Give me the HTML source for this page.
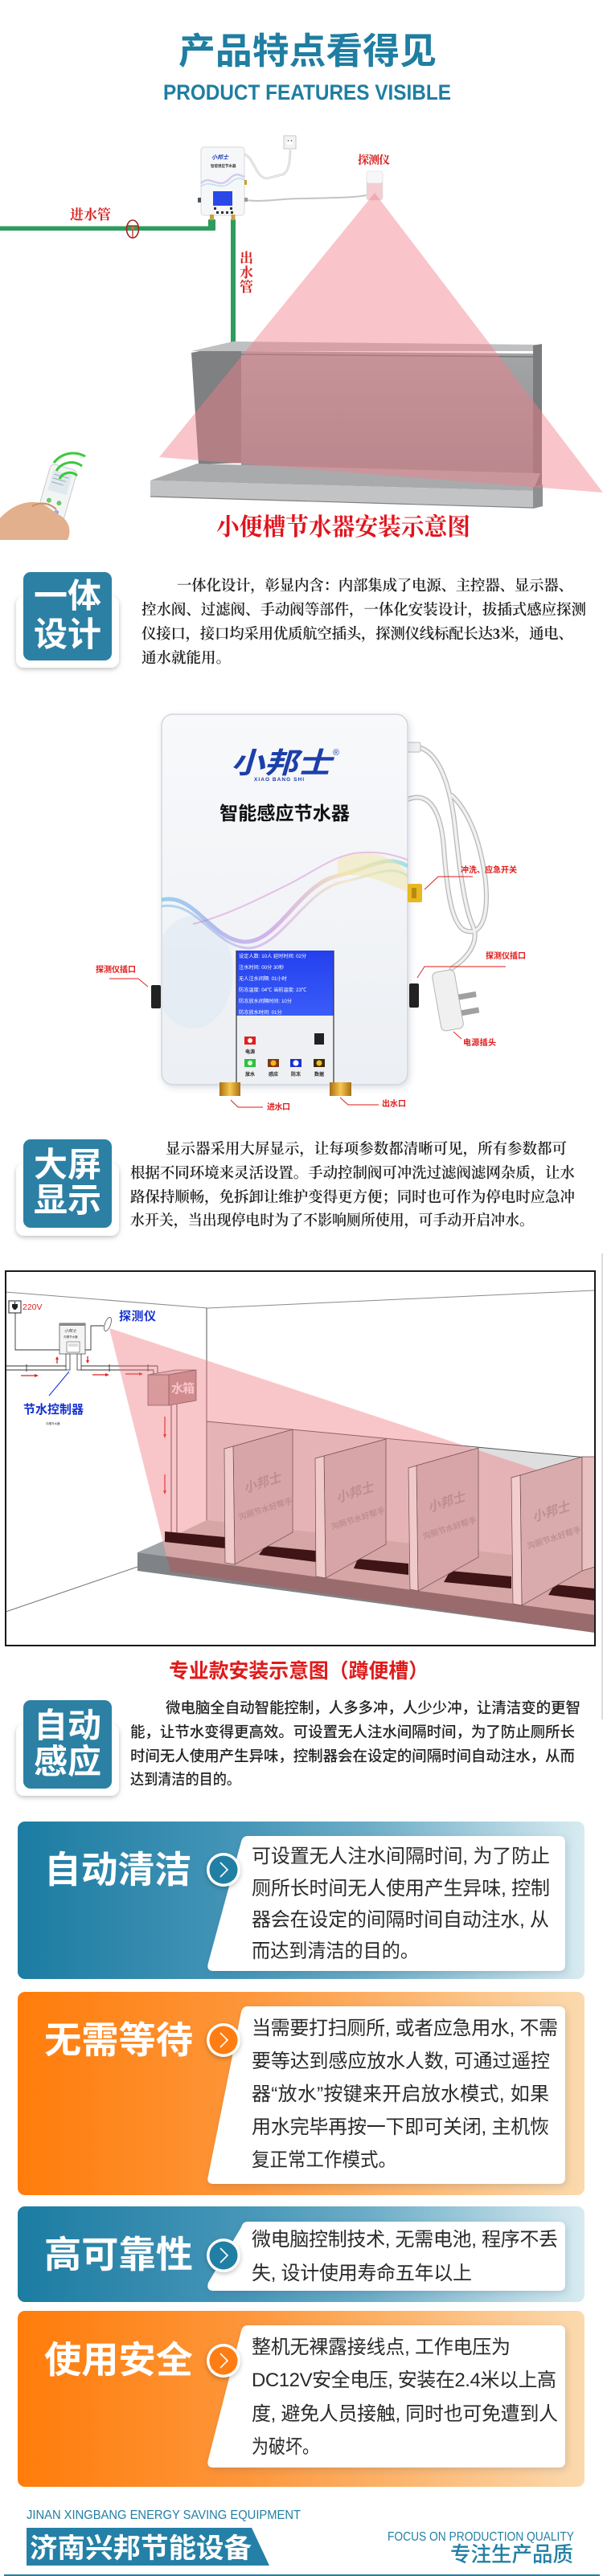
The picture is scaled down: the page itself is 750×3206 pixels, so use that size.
<!DOCTYPE html>
<html><head><meta charset="utf-8">
<style>
html,body{margin:0;padding:0;background:#fff;}
svg{display:block;}
.s{font-family:"Liberation Sans","Noto Sans CJK SC",sans-serif;}
.r{font-family:"Liberation Serif","Noto Serif CJK SC",serif;}
</style></head>
<body>
<svg width="750" height="3206" viewBox="0 0 750 3206" xmlns="http://www.w3.org/2000/svg">
<defs>
 <linearGradient id="tg" x1="0" y1="0" x2="1" y2="0">
  <stop offset="0" stop-color="#1c7ca2"/><stop offset="0.4" stop-color="#4696b8"/><stop offset="0.62" stop-color="#6cadc7"/><stop offset="1" stop-color="#d8ebf1"/>
 </linearGradient>
 <linearGradient id="og" x1="0" y1="0" x2="1" y2="0">
  <stop offset="0" stop-color="#ff7c0a"/><stop offset="0.4" stop-color="#fd963a"/><stop offset="0.62" stop-color="#fcae62"/><stop offset="1" stop-color="#fbdaae"/>
 </linearGradient>
 <filter id="sh" x="-30%" y="-30%" width="160%" height="160%"><feDropShadow dx="0" dy="2" stdDeviation="3" flood-color="#000" flood-opacity="0.25"/></filter>
 <filter id="sh2" x="-10%" y="-10%" width="120%" height="130%"><feDropShadow dx="2" dy="3" stdDeviation="4" flood-color="#3a4a6a" flood-opacity="0.18"/></filter>
 <linearGradient id="steel" x1="0" y1="0" x2="0" y2="1"><stop offset="0" stop-color="#a4a5a7"/><stop offset="1" stop-color="#8e8f91"/></linearGradient>
 <linearGradient id="brass" x1="0" y1="0" x2="1" y2="0"><stop offset="0" stop-color="#a86e14"/><stop offset="0.5" stop-color="#f6c850"/><stop offset="1" stop-color="#a86e14"/></linearGradient>
 <linearGradient id="scr" x1="0" y1="0" x2="0" y2="1"><stop offset="0" stop-color="#2440ee"/><stop offset="1" stop-color="#3a5cf8"/></linearGradient>
 <linearGradient id="box" x1="0" y1="0" x2="0" y2="1"><stop offset="0" stop-color="#f8f9fb"/><stop offset="1" stop-color="#eceff3"/></linearGradient>
 <linearGradient id="wv1" x1="0" y1="0" x2="1" y2="0"><stop offset="0" stop-color="#2fa0e0"/><stop offset="0.45" stop-color="#b060e0"/><stop offset="0.75" stop-color="#f0d070"/><stop offset="1" stop-color="#40c8d0"/></linearGradient>
 <clipPath id="boxclip"><rect x="201" y="889" width="306" height="461" rx="14"/></clipPath>
 <clipPath id="beam"><polygon points="136,1653 740,1853 740,2032 212,1956"/></clipPath>
</defs>

<!-- ===== HEADER ===== -->
<text class="s" x="222" y="79" font-size="45" font-weight="700" fill="#1f7ea1" textLength="321" lengthAdjust="spacingAndGlyphs">产品特点看得见</text>
<text x="203" y="124" font-family="Liberation Sans,sans-serif" font-size="27" font-weight="700" fill="#1f7ea1" textLength="358" lengthAdjust="spacingAndGlyphs">PRODUCT FEATURES VISIBLE</text>

<!-- ===== DIAGRAM 1 ===== -->
<rect x="353" y="169" width="15" height="16" fill="#f6f6f6" stroke="#c4c4c4"/>
<rect x="356" y="172" width="9" height="9" fill="#fff" stroke="#ddd" stroke-width="0.6"/>
<circle cx="358.5" cy="175" r="0.9" fill="#555"/><circle cx="362.5" cy="175" r="0.9" fill="#555"/>
<path d="M304,192 C316,196 318,222 332,222 L352,217 C359,214 361,200 361,186" stroke="#c8c8c8" stroke-width="2.6" fill="none"/>
<path d="M304,192 C316,196 318,222 332,222 L352,217 C359,214 361,200 361,186" stroke="#f2f2f2" stroke-width="1.2" fill="none"/>
<path d="M305,249 C330,252 345,247 380,247 C420,246 440,246 456,243" stroke="#c4c4c4" stroke-width="2" fill="none"/>
<rect x="250" y="183" width="54" height="85" rx="4" fill="#f6f7f9" stroke="#d6d9dd"/>
<text class="s" x="263" y="198" font-size="7" font-weight="700" font-style="italic" fill="#2242b4">小邦士</text>
<text class="s" x="262" y="208" font-size="4.5" font-weight="700" fill="#333">智能感应节水器</text>
<path d="M250,228 C262,216 272,238 286,222 C294,214 298,218 304,220" stroke="#c9a8ea" stroke-width="2.5" fill="none" opacity="0.6"/>
<path d="M250,232 C262,222 274,240 288,226 C296,220 300,222 304,224" stroke="#8fd0e8" stroke-width="1.5" fill="none" opacity="0.6"/>
<rect x="265" y="238" width="24" height="18" fill="#2a48e8"/>
<rect x="266" y="258" width="3" height="3" fill="#333"/><rect x="286" y="258" width="3" height="3" fill="#333"/>
<rect x="269" y="263" width="3" height="3" fill="#333"/><rect x="275" y="263" width="3" height="3" fill="#333"/><rect x="281" y="263" width="3" height="3" fill="#333"/><rect x="287" y="263" width="3" height="3" fill="#333"/>
<rect x="246" y="246" width="4" height="6" fill="#555"/>
<rect x="304" y="246" width="4" height="5" fill="#999"/>
<rect x="304" y="224" width="3" height="6" fill="#c8a030"/>
<rect x="0" y="281.5" width="267" height="5.5" fill="#2e9c5c"/>
<rect x="259" y="273" width="9" height="14" rx="1" fill="#2e9c5c"/>
<rect x="287" y="273" width="6" height="153" fill="#2e9c5c"/>
<rect x="261" y="267" width="5" height="7" fill="#c8a040"/>
<rect x="287.5" y="267" width="5" height="7" fill="#c8a040"/>
<ellipse cx="165" cy="285" rx="7.5" ry="11" fill="none" stroke="#a8201c" stroke-width="1.6"/>
<line x1="158" y1="281" x2="172" y2="281" stroke="#a8201c" stroke-width="1.2"/>
<line x1="165" y1="283" x2="165" y2="296" stroke="#a8201c" stroke-width="1.2"/>
<circle cx="165" cy="284" r="2.2" fill="#e06a20"/>
<rect x="456" y="213" width="20" height="36" rx="3" fill="#f4cdd2" stroke="#ddd" stroke-width="0.6"/>
<rect x="456" y="213" width="20" height="15" rx="3" fill="#f7f7f7" stroke="#ddd" stroke-width="0.6"/>
<text class="r" x="445" y="204" font-size="14" font-weight="700" fill="#d81e1e" textLength="40">探测仪</text>
<text class="r" x="87" y="273" font-size="17" font-weight="700" fill="#d81e1e" textLength="51">进水管</text>
<text class="r" x="298" y="327" font-size="17" font-weight="700" fill="#d81e1e">出</text>
<text class="r" x="298" y="345" font-size="17" font-weight="700" fill="#d81e1e">水</text>
<text class="r" x="298" y="363" font-size="17" font-weight="700" fill="#d81e1e">管</text>
<!-- trough -->
<polygon points="238,439 300,427 300,576 247,578" fill="#7e8082"/>
<polygon points="300,437 663,440 663,590 300,582" fill="url(#steel)"/>
<line x1="300" y1="441" x2="663" y2="444" stroke="#767678" stroke-width="1.5"/>
<polygon points="238,437 290,425 673,429 673,437 300,437" fill="#bfc0c2"/>
<polygon points="663,430 674,428 674,615 663,618" fill="#7a7b7d"/>
<polygon points="187,598 245,577 672,589 663,611" fill="#a9aaac"/>
<polygon points="187,598 663,611 663,632 187,618" fill="#c2c3c5"/>
<line x1="187" y1="618" x2="663" y2="632" stroke="#808082" stroke-width="1.2"/>
<polygon points="663,606 675,603 675,630 663,633" fill="#8e8f91"/>
<polygon points="466,240 198,569 750,613" fill="rgb(242,127,138)" opacity="0.45"/>
<!-- remote and hand -->
<g transform="rotate(16 70 620)">
 <rect x="52" y="580" width="34" height="88" rx="6" fill="#f3f5f5" stroke="#c8cacc"/>
 <rect x="57" y="587" width="24" height="26" rx="2" fill="#dfe9ee"/>
 <line x1="59" y1="592" x2="78" y2="592" stroke="#9ab" stroke-width="1"/>
 <line x1="59" y1="597" x2="76" y2="597" stroke="#9ab" stroke-width="1"/>
 <line x1="59" y1="602" x2="74" y2="602" stroke="#9ab" stroke-width="1"/>
 <circle cx="62" cy="625" r="3" fill="#6cc86c"/><circle cx="75" cy="625" r="3" fill="#6cc86c"/>
 <circle cx="62" cy="637" r="3" fill="#6cc86c"/><circle cx="75" cy="637" r="3" fill="#9ad"/>
</g>
<path d="M0,645 C15,628 38,620 55,628 L72,640 C85,646 90,660 84,672 L0,672 Z" fill="#e2b08c"/>
<path d="M40,630 C50,624 62,626 70,634" stroke="#c98f68" stroke-width="2" fill="none"/>
<path d="M74,596 A14,14 0 0 1 96,592" stroke="#3cc83c" stroke-width="3" fill="none"/>
<path d="M70,586 A22,22 0 0 1 102,580" stroke="#3cc83c" stroke-width="3" fill="none"/>
<path d="M67,576 A30,30 0 0 1 106,568" stroke="#3cc83c" stroke-width="3" fill="none"/>
<text class="r" x="269" y="666" font-size="30" font-weight="700" fill="#e0141e" textLength="316" lengthAdjust="spacingAndGlyphs">小便槽节水器安装示意图</text>

<!-- ===== SECTION 一体设计 ===== -->
<rect x="20" y="742" width="128" height="89" rx="10" fill="#fff" filter="url(#sh)"/>
<rect x="29" y="712" width="110" height="110" rx="9" fill="#2c80a4"/>
<text class="s" x="84" y="756" font-size="42" font-weight="700" fill="#fff" text-anchor="middle">一体</text>
<text class="s" x="84" y="804" font-size="42" font-weight="700" fill="#fff" text-anchor="middle">设计</text>
<g class="r" font-size="18.5" fill="#222" font-weight="600">
<text x="220" y="735" textLength="493" lengthAdjust="spacing">一体化设计，彰显内含：内部集成了电源、主控器、显示器、</text>
<text x="176" y="765" textLength="553" lengthAdjust="spacing">控水阀、过滤阀、手动阀等部件，一体化安装设计，拔插式感应探测</text>
<text x="176" y="795" textLength="537" lengthAdjust="spacing">仪接口，接口均采用优质航空插头，探测仪线标配长达3米，通电、</text>
<text x="176" y="825">通水就能用。</text>
</g>

<!-- ===== PRODUCT CONTROLLER ===== -->
<g fill="none" stroke-linecap="round">
<path d="M520,930 C545,935 560,975 566,1030 C572,1085 578,1130 588,1152 C596,1170 585,1190 562,1205" stroke="#b8b8b8" stroke-width="6"/>
<path d="M507,995 C532,985 548,1005 552,1055 C556,1110 562,1150 578,1158 C606,1168 610,1120 600,1072 C592,1032 578,1005 562,990" stroke="#b8b8b8" stroke-width="6"/>
<path d="M520,930 C545,935 560,975 566,1030 C572,1085 578,1130 588,1152 C596,1170 585,1190 562,1205" stroke="#f0f0f0" stroke-width="3.5"/>
<path d="M507,995 C532,985 548,1005 552,1055 C556,1110 562,1150 578,1158 C606,1168 610,1120 600,1072 C592,1032 578,1005 562,990" stroke="#f0f0f0" stroke-width="3.5"/>
</g>
<rect x="505" y="924" width="18" height="12" rx="2" fill="#f0f0f0" stroke="#bbb"/>
<g transform="rotate(-10 557 1245)">
<rect x="543" y="1208" width="28" height="74" rx="6" fill="#f0f0f0" stroke="#b5b5b5"/>
<rect x="571" y="1240" width="22" height="7" fill="#a0a0a0"/>
<rect x="571" y="1260" width="22" height="7" fill="#a0a0a0"/>
</g>
<rect x="201" y="889" width="306" height="461" rx="14" fill="url(#box)" stroke="#d2d6db" stroke-width="1.5" filter="url(#sh2)"/>
<g clip-path="url(#boxclip)">
<ellipse cx="240" cy="1210" rx="50" ry="70" fill="#dde8f2" opacity="0.55"/>
<path d="M201,1120 C240,1110 262,1168 302,1172 C345,1176 372,1100 420,1090 C462,1080 480,1062 507,1078" stroke="url(#wv1)" stroke-width="5" fill="none" opacity="0.45"/>
<path d="M201,1128 C245,1120 268,1180 310,1180 C350,1178 380,1108 425,1098 C465,1090 485,1075 507,1090" stroke="url(#wv1)" stroke-width="3" fill="none" opacity="0.35"/>
<path d="M240,1150 C280,1140 320,1120 360,1100 C390,1085 410,1068 440,1062 C470,1058 490,1064 507,1070" stroke="#d070c8" stroke-width="2" fill="none" opacity="0.4"/>
<path d="M420,1070 C450,1055 480,1060 507,1085 L507,1110 C480,1100 455,1085 420,1090 Z" fill="#f4e4a0" opacity="0.45"/>
</g>
<text class="s" x="287" y="962" font-size="36" font-weight="700" font-style="italic" fill="#1c3faa" textLength="125" lengthAdjust="spacingAndGlyphs">小邦士</text>
<text x="414" y="940" font-family="Liberation Sans,sans-serif" font-size="11" fill="#1c3faa">®</text>
<text x="316" y="972" font-family="Liberation Sans,sans-serif" font-size="6.5" font-weight="700" fill="#1c3faa" textLength="62">XIAO BANG SHI</text>
<text class="s" x="273" y="1020" font-size="23" font-weight="700" fill="#111" textLength="162" lengthAdjust="spacingAndGlyphs">智能感应节水器</text>
<rect x="294" y="1183" width="121" height="81" fill="url(#scr)"/>
<g class="s" font-size="6.2" fill="#fff">
<text x="297" y="1192">设定人数: 10人  延时时间: 02分</text>
<text x="297" y="1206">注水时间: 00分 30秒</text>
<text x="297" y="1220">无人注水间隔: 01小时</text>
<text x="297" y="1234">防冻温度: 04℃  当前温度: 23℃</text>
<text x="297" y="1248">防冻放水间隔时间: 10分</text>
<text x="297" y="1262">防冻放水时间: 01分</text>
</g>
<rect x="294" y="1264" width="121" height="82" fill="#eef0f3"/>
<line x1="294" y1="1183" x2="294" y2="1348" stroke="#333" stroke-width="1.2"/>
<line x1="415" y1="1183" x2="415" y2="1348" stroke="#333" stroke-width="1.2"/>
<rect x="304" y="1290" width="14" height="10" fill="#e02020"/><circle cx="311" cy="1295" r="3" fill="#fff"/>
<rect x="391" y="1286" width="12" height="14" fill="#222"/>
<rect x="304" y="1318" width="14" height="10" fill="#30c040"/><circle cx="311" cy="1323" r="3" fill="#dfffe0"/>
<rect x="333" y="1318" width="14" height="10" fill="#7a3a18"/><circle cx="340" cy="1323" r="3.5" fill="#ffb020"/>
<rect x="361" y="1318" width="14" height="10" fill="#1a30d0"/><circle cx="368" cy="1323" r="3.5" fill="#fff"/>
<rect x="390" y="1318" width="14" height="10" fill="#3a2a10"/><circle cx="397" cy="1323" r="3.5" fill="#f0c020"/>
<g class="s" font-size="6" font-weight="700" fill="#222" text-anchor="middle">
<text x="311" y="1311">电源</text>
<text x="311" y="1339">放水</text><text x="340" y="1339">感应</text><text x="368" y="1339">防冻</text><text x="397" y="1339">数据</text>
</g>
<rect x="273" y="1347" width="26" height="17" fill="url(#brass)"/>
<rect x="410" y="1347" width="27" height="17" fill="url(#brass)"/>
<rect x="507" y="1100" width="18" height="23" rx="2" fill="#e8b820"/>
<rect x="512" y="1105" width="6" height="13" fill="#b88a10"/>
<rect x="188" y="1226" width="12" height="29" rx="2" fill="#222"/>
<rect x="509" y="1224" width="12" height="30" rx="2" fill="#222"/>
<g stroke="#e01818" stroke-width="0.9" fill="none">
<polyline points="287,1369 296,1378 327,1378"/>
<polyline points="423,1366 433,1375 471,1375"/>
<polyline points="564,1284 574,1293"/>
<polyline points="519,1217 528,1203 629,1203"/>
<polyline points="136,1218 172,1218 184,1228"/>
<polyline points="528,1107 545,1091 588,1091"/>
</g>
<g class="s" font-size="10" font-weight="700" fill="#e01818">
<text x="332" y="1381" textLength="29">进水口</text>
<text x="475" y="1377" textLength="30">出水口</text>
<text x="576" y="1301" textLength="41">电源插头</text>
<text x="604" y="1193" textLength="50">探测仪插口</text>
<text x="119" y="1210" textLength="50">探测仪插口</text>
<text x="573" y="1086" textLength="70">冲洗、应急开关</text>
</g>

<!-- ===== SECTION 大屏显示 ===== -->
<rect x="20" y="1448" width="128" height="90" rx="10" fill="#fff" filter="url(#sh)"/>
<rect x="29" y="1418" width="110" height="110" rx="9" fill="#2c80a4"/>
<text class="s" x="84" y="1464" font-size="42" font-weight="700" fill="#fff" text-anchor="middle">大屏</text>
<text class="s" x="84" y="1508" font-size="42" font-weight="700" fill="#fff" text-anchor="middle">显示</text>
<g class="r" font-size="18.5" fill="#222" font-weight="600">
<text x="206" y="1436" textLength="499" lengthAdjust="spacing">显示器采用大屏显示，让每项参数都清晰可见，所有参数都可</text>
<text x="162" y="1466" textLength="553" lengthAdjust="spacing">根据不同环境来灵活设置。手动控制阀可冲洗过滤阀滤网杂质，让水</text>
<text x="162" y="1496" textLength="553" lengthAdjust="spacing">路保持顺畅，免拆卸让维护变得更方便；同时也可作为停电时应急冲</text>
<text x="162" y="1525" textLength="502" lengthAdjust="spacingAndGlyphs">水开关，当出现停电时为了不影响厕所使用，可手动开启冲水。</text>
</g>

<!-- ===== DIAGRAM 2 ===== -->
<line x1="749" y1="1560" x2="749" y2="2140" stroke="#bbb" stroke-width="1"/>
<rect x="7" y="1582" width="733" height="466" fill="#fff" stroke="#1a1a1a" stroke-width="2"/>
<polyline points="7,1608 258,1628 740,1606" stroke="#8a8a8a" stroke-width="1" fill="none"/>
<polygon points="257,1769 740,1815 740,1947 257,1892" fill="#dedede"/>
<line x1="257" y1="1769" x2="740" y2="1815" stroke="#555" stroke-width="1"/>
<line x1="257" y1="1628" x2="257" y2="1892" stroke="#555" stroke-width="1"/>
<line x1="171" y1="1950" x2="7" y2="2006" stroke="#777" stroke-width="1"/>
<!-- pipes & water box -->
<g stroke="#333" stroke-width="0.9" fill="none">
<line x1="7" y1="1700" x2="83" y2="1700"/><line x1="7" y1="1705" x2="83" y2="1705"/>
<line x1="100" y1="1700" x2="196" y2="1700"/><line x1="100" y1="1705" x2="191" y2="1705"/>
<line x1="196" y1="1700" x2="196" y2="1709"/><line x1="191" y1="1705" x2="191" y2="1710"/>
<line x1="33" y1="1698" x2="33" y2="1707"/><line x1="136" y1="1698" x2="136" y2="1707"/><line x1="184" y1="1698" x2="184" y2="1707"/>
<line x1="213" y1="1749" x2="213" y2="1914"/><line x1="220" y1="1748" x2="220" y2="1912"/>
<polyline points="19,1634 19,1680 74,1680"/>
<polyline points="106,1680 113,1680 113,1650 129,1650"/>
</g>
<rect x="82" y="1685" width="5" height="20" fill="#fff" stroke="#333" stroke-width="0.8"/>
<rect x="96" y="1685" width="5" height="20" fill="#fff" stroke="#333" stroke-width="0.8"/>
<polygon points="184,1711 210,1711 244,1705 218,1705" fill="#e2d2d2" stroke="#555" stroke-width="0.8"/>
<rect x="184" y="1711" width="26" height="38" fill="#c8b4b4" stroke="#555" stroke-width="0.8"/>
<polygon points="210,1711 244,1705 244,1743 210,1749" fill="#b89a9a" stroke="#555" stroke-width="0.8"/>
<text class="s" x="213" y="1733" font-size="15" font-weight="700" fill="#fff" textLength="29">水箱</text>
<rect x="11" y="1619" width="15" height="15" fill="#fff" stroke="#222" stroke-width="1"/>
<path d="M15,1623 L22,1623 L22,1627 L19.5,1630 L17.5,1630 L15,1627 Z" fill="#222"/>
<line x1="18.5" y1="1620" x2="18.5" y2="1623" stroke="#222"/>
<text x="28" y="1630" font-family="Liberation Sans,sans-serif" font-size="10.5" fill="#e02020">220V</text>
<rect x="74" y="1647" width="32" height="38" fill="#f4f4f4" stroke="#555" stroke-width="0.8"/>
<rect x="74" y="1647" width="32" height="3" fill="#888"/>
<text class="s" x="80" y="1658" font-size="5" font-style="italic" fill="#333">小邦士</text>
<text class="s" x="79" y="1665" font-size="3.5" fill="#333">沟槽节水器</text>
<rect x="83" y="1670" width="16" height="13" fill="#fff" stroke="#555" stroke-width="0.6"/>
<rect x="85" y="1672" width="12" height="4" fill="#ddd"/>
<ellipse cx="134" cy="1648" rx="3.5" ry="9" transform="rotate(20 134 1648)" fill="#fff" stroke="#555" stroke-width="0.8"/>
<text class="s" x="148" y="1643" font-size="15" font-weight="700" fill="#1530d0" textLength="46">探测仪</text>
<line x1="86" y1="1707" x2="61" y2="1737" stroke="#1530d0" stroke-width="1"/>
<text class="s" x="29" y="1759" font-size="15" font-weight="700" fill="#1530d0" textLength="75">节水控制器</text>
<text class="s" x="57" y="1773" font-size="3.5" fill="#333">沟槽节水器</text>
<g stroke="#e02020" stroke-width="1.3" fill="#e02020">
<line x1="26" y1="1712" x2="45" y2="1712"/><polygon points="48,1712 43,1710 43,1714" stroke="none"/>
<line x1="115" y1="1711" x2="133" y2="1711"/><polygon points="136,1711 131,1709 131,1713" stroke="none"/>
<line x1="156" y1="1710" x2="175" y2="1710"/><polygon points="178,1710 173,1708 173,1712" stroke="none"/>
<line x1="71" y1="1697" x2="71" y2="1691"/><polygon points="71,1688 69,1692 73,1692" stroke="none"/>
<line x1="109" y1="1688" x2="109" y2="1694"/><polygon points="109,1697 107,1693 111,1693" stroke="none"/>
<line x1="205" y1="1763" x2="205" y2="1786"/><polygon points="205,1790 203,1785 207,1785" stroke="none"/>
<line x1="205" y1="1835" x2="205" y2="1856"/><polygon points="205,1860 203,1855 207,1855" stroke="none"/>
</g>
<!-- pink beam over walls -->
<polygon points="136,1653 740,1853 740,2032 212,1956" fill="rgb(238,120,126)" opacity="0.42"/>
<!-- platform: gray base -->
<polygon points="171,1932 205,1917 257,1892 740,1947 740,2010" fill="#a2a5a7"/>
<polygon points="171,1932 740,2010 740,2032 171,1955" fill="#7f8387"/>
<!-- platform: pink part within beam -->
<g clip-path="url(#beam)">
<polygon points="171,1932 205,1917 257,1892 740,1947 740,2010" fill="#d6a6a6"/>
<polygon points="171,1932 740,2010 740,2032 171,1955" fill="#9a6b6d"/>
</g>
<!-- slots -->
<g fill="#3e1416">
<polygon points="205,1906 280,1913 280,1927 205,1919"/>
<polygon points="330,1924 393,1930 393,1944 322,1935"/>
<polygon points="445,1940 508,1946 508,1960 440,1952"/>
<polygon points="560,1955 636,1962 636,1977 552,1969"/>
<polygon points="690,1972 740,1977 740,1992 682,1985"/>
</g>
<!-- partitions -->
<g stroke="#6e4c4c" stroke-width="0.7">
<polygon points="290,1800 364,1779 364,1907 292,1947" fill="#d7a5a7"/>
<polygon points="279,1803 290,1800 292,1947 280,1945" fill="#f0caca"/>
<polygon points="403,1812 480,1791 480,1922 405,1964" fill="#d7a5a7"/>
<polygon points="392,1815 403,1812 405,1964 393,1962" fill="#f0caca"/>
<polygon points="518,1824 595,1802 595,1938 520,1980" fill="#d7a5a7"/>
<polygon points="508,1827 518,1824 520,1980 510,1978" fill="#f0caca"/>
<polygon points="647,1836 724,1813 724,1955 649,1998" fill="#d9abad"/>
<polygon points="636,1839 647,1836 649,1998 638,1996" fill="#f2cece"/>
<polygon points="724,1813 740,1813 740,1950 724,1955" fill="#e8c0c0"/>
</g>
<g class="s" fill="#b38585" opacity="0.7" font-weight="700">
<text x="305" y="1858" font-size="16" font-style="italic" transform="rotate(-18 305 1858)">小邦士</text>
<text x="298" y="1892" font-size="10" transform="rotate(-18 298 1892)">沟厕节水好帮手</text>
<text x="420" y="1870" font-size="16" font-style="italic" transform="rotate(-18 420 1870)">小邦士</text>
<text x="413" y="1904" font-size="10" transform="rotate(-18 413 1904)">沟厕节水好帮手</text>
<text x="534" y="1882" font-size="16" font-style="italic" transform="rotate(-18 534 1882)">小邦士</text>
<text x="527" y="1916" font-size="10" transform="rotate(-18 527 1916)">沟厕节水好帮手</text>
<text x="664" y="1894" font-size="16" font-style="italic" transform="rotate(-18 664 1894)">小邦士</text>
<text x="657" y="1928" font-size="10" transform="rotate(-18 657 1928)">沟厕节水好帮手</text>
</g>
<rect x="7" y="1582" width="733" height="466" fill="none" stroke="#1a1a1a" stroke-width="2"/>
<text class="s" x="210" y="2088" font-size="25" font-weight="700" fill="#e01a1a" textLength="323" lengthAdjust="spacingAndGlyphs">专业款安装示意图（蹲便槽）</text>

<!-- ===== SECTION 自动感应 ===== -->
<rect x="20" y="2146" width="128" height="89" rx="10" fill="#fff" filter="url(#sh)"/>
<rect x="29" y="2116" width="110" height="110" rx="9" fill="#2c80a4"/>
<text class="s" x="84" y="2162" font-size="42" font-weight="700" fill="#fff" text-anchor="middle">自动</text>
<text class="s" x="84" y="2207" font-size="42" font-weight="700" fill="#fff" text-anchor="middle">感应</text>
<g class="s" font-size="18.5" fill="#222" font-weight="500">
<text x="206" y="2132" textLength="516" lengthAdjust="spacing">微电脑全自动智能控制，人多多冲，人少少冲，让清洁变的更智</text>
<text x="162" y="2162" textLength="553" lengthAdjust="spacing">能，让节水变得更高效。可设置无人注水间隔时间，为了防止厕所长</text>
<text x="162" y="2192" textLength="553" lengthAdjust="spacing">时间无人使用产生异味，控制器会在设定的间隔时间自动注水，从而</text>
<text x="162" y="2221" textLength="137" lengthAdjust="spacingAndGlyphs">达到清洁的目的。</text>
</g>

<!-- ===== CARD 1 自动清洁 ===== -->
<rect x="22" y="2267" width="705" height="196" rx="9" fill="url(#tg)"/>
<path d="M308,2285 L695,2285 Q703,2285 703,2293 L703,2445 Q703,2453 695,2453 L266,2453 Q256,2453 259,2443 L300,2292 Q302,2285 308,2285 Z" fill="#fff" filter="url(#sh2)"/>
<text class="s" x="55" y="2343" font-size="46" font-weight="700" fill="#fff" textLength="183" lengthAdjust="spacingAndGlyphs">自动清洁</text>
<circle cx="278" cy="2327" r="21" fill="#fff" filter="url(#sh)"/>
<circle cx="278" cy="2327" r="17.5" fill="#217fa4"/>
<polyline points="274,2318 283,2327 274,2336" stroke="#fff" stroke-width="1.6" fill="none"/>
<g class="s" font-size="24" fill="#2a2a2a">
<text x="313" y="2318" textLength="371" lengthAdjust="spacing">可设置无人注水间隔时间, 为了防止</text>
<text x="313" y="2358" textLength="371" lengthAdjust="spacing">厕所长时间无人使用产生异味, 控制</text>
<text x="313" y="2397" textLength="370" lengthAdjust="spacing">器会在设定的间隔时间自动注水, 从</text>
<text x="313" y="2436" textLength="208" lengthAdjust="spacingAndGlyphs">而达到清洁的目的。</text>
</g>

<!-- ===== CARD 2 无需等待 ===== -->
<rect x="22" y="2479" width="705" height="253" rx="9" fill="url(#og)"/>
<path d="M308,2497 L695,2497 Q703,2497 703,2505 L703,2710 Q703,2718 695,2718 L266,2718 Q256,2718 259,2708 L300,2504 Q302,2497 308,2497 Z" fill="#fff" filter="url(#sh2)"/>
<text class="s" x="55" y="2555" font-size="46" font-weight="700" fill="#fff" textLength="185" lengthAdjust="spacingAndGlyphs">无需等待</text>
<circle cx="278" cy="2539" r="21" fill="#fff" filter="url(#sh)"/>
<circle cx="278" cy="2539" r="17.5" fill="#ff7d12"/>
<polyline points="274,2530 283,2539 274,2548" stroke="#fff" stroke-width="1.6" fill="none"/>
<g class="s" font-size="24" fill="#2a2a2a">
<text x="313" y="2532" textLength="381" lengthAdjust="spacing">当需要打扫厕所, 或者应急用水, 不需</text>
<text x="313" y="2573" textLength="371" lengthAdjust="spacing">要等达到感应放水人数, 可通过遥控</text>
<text x="313" y="2614" textLength="370" lengthAdjust="spacing">器“放水”按键来开启放水模式, 如果</text>
<text x="313" y="2655" textLength="370" lengthAdjust="spacing">用水完毕再按一下即可关闭, 主机恢</text>
<text x="313" y="2696" textLength="180" lengthAdjust="spacingAndGlyphs">复正常工作模式。</text>
</g>

<!-- ===== CARD 3 高可靠性 ===== -->
<rect x="22" y="2746" width="705" height="119" rx="9" fill="url(#tg)"/>
<path d="M308,2765 L695,2765 Q703,2765 703,2773 L703,2843 Q703,2851 695,2851 L266,2851 Q256,2851 259,2841 L300,2772 Q302,2765 308,2765 Z" fill="#fff" filter="url(#sh2)"/>
<text class="s" x="55" y="2822" font-size="46" font-weight="700" fill="#fff" textLength="185" lengthAdjust="spacingAndGlyphs">高可靠性</text>
<circle cx="278" cy="2807" r="21" fill="#fff" filter="url(#sh)"/>
<circle cx="278" cy="2807" r="17.5" fill="#217fa4"/>
<polyline points="274,2798 283,2807 274,2816" stroke="#fff" stroke-width="1.6" fill="none"/>
<g class="s" font-size="24" fill="#2a2a2a">
<text x="313" y="2795" textLength="381" lengthAdjust="spacing">微电脑控制技术, 无需电池, 程序不丢</text>
<text x="313" y="2837" textLength="274" lengthAdjust="spacing">失, 设计使用寿命五年以上</text>
</g>

<!-- ===== CARD 4 使用安全 ===== -->
<rect x="22" y="2876" width="705" height="219" rx="9" fill="url(#og)"/>
<path d="M308,2894 L695,2894 Q703,2894 703,2902 L703,3063 Q703,3071 695,3071 L266,3071 Q256,3071 259,3061 L300,2901 Q302,2894 308,2894 Z" fill="#fff" filter="url(#sh2)"/>
<text class="s" x="55" y="2953" font-size="46" font-weight="700" fill="#fff" textLength="185" lengthAdjust="spacingAndGlyphs">使用安全</text>
<circle cx="278" cy="2938" r="21" fill="#fff" filter="url(#sh)"/>
<circle cx="278" cy="2938" r="17.5" fill="#ff7d12"/>
<polyline points="274,2929 283,2938 274,2947" stroke="#fff" stroke-width="1.6" fill="none"/>
<g class="s" font-size="24" fill="#2a2a2a">
<text x="313" y="2929" textLength="322" lengthAdjust="spacing">整机无裸露接线点, 工作电压为</text>
<text x="313" y="2970" textLength="379" lengthAdjust="spacing">DC12V安全电压, 安装在2.4米以上高</text>
<text x="313" y="3012" textLength="381" lengthAdjust="spacing">度, 避免人员接触, 同时也可免遭到人</text>
<text x="313" y="3053" textLength="84" lengthAdjust="spacingAndGlyphs">为破坏。</text>
</g>

<!-- ===== FOOTER ===== -->
<text x="33" y="3135" font-family="Liberation Sans,sans-serif" font-size="16" fill="#2280a5" textLength="341" lengthAdjust="spacingAndGlyphs">JINAN XINGBANG ENERGY SAVING EQUIPMENT</text>
<polygon points="33,3146 313,3146 335,3193 33,3193" fill="#2480a6"/>
<text class="s" x="37" y="3183" font-size="34" font-weight="700" fill="#fff" textLength="276" lengthAdjust="spacingAndGlyphs">济南兴邦节能设备</text>
<text x="482" y="3162" font-family="Liberation Sans,sans-serif" font-size="16" fill="#2280a5" textLength="232" lengthAdjust="spacingAndGlyphs">FOCUS ON PRODUCTION QUALITY</text>
<text class="s" x="560" y="3188" font-size="26" font-weight="500" fill="#2280a5" textLength="153" lengthAdjust="spacingAndGlyphs">专注生产品质</text>
<rect x="5" y="3204" width="741" height="2" fill="#2280a5"/>
</svg>
</body></html>
